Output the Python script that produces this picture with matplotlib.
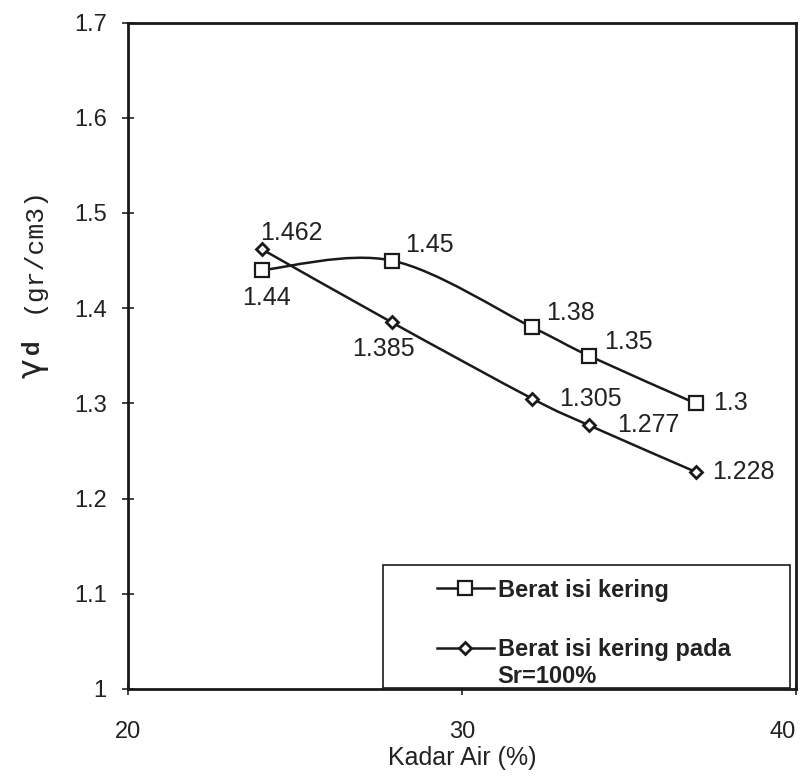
import matplotlib.pyplot as plt
import numpy as np
from matplotlib.path import Path
from matplotlib.patches import PathPatch, Rectangle
from matplotlib.lines import Line2D

plt.rcParams['font.family'] = ['Liberation Sans', 'DejaVu Sans']

kadar_air = np.array([24.0, 27.9, 32.1, 33.8, 37.0])
berat_kering = np.array([1.44, 1.45, 1.38, 1.35, 1.30])
berat_sr100 = np.array([1.462, 1.385, 1.305, 1.277, 1.228])

labels_kering = ['1.44', '1.45', '1.38', '1.35', '1.3']
labels_sr100 = ['1.462', '1.385', '1.305', '1.277', '1.228']

# label offsets in pixels (dx, dy, ha)
off_kering = [(5, -28, 'center'), (13, 16, 'left'), (14, 14, 'left'), (15, 14, 'left'), (18, 0, 'left')]
off_sr100 = [(-2, 16, 'left'), (-8, -27, 'center'), (27, 0, 'left'), (28, 0, 'left'), (17, 0, 'left')]

ink = '#1a1a1a'
txt = '#222222'


def smooth_path(x, y):
    # excel-style smoothed line: cubic bezier through the points
    pts = np.column_stack([x, y])
    n = len(pts)
    verts = [pts[0]]
    codes = [Path.MOVETO]
    for i in range(n - 1):
        p0 = pts[i - 1] if i > 0 else pts[i]
        p1 = pts[i]
        p2 = pts[i + 1]
        p3 = pts[i + 2] if i + 2 < n else pts[i + 1]
        c1 = p1 + (p2 - p0) / 6
        c2 = p2 - (p3 - p1) / 6
        verts += [c1, c2, p2]
        codes += [Path.CURVE4] * 3
    return Path(verts, codes)


fig = plt.figure(figsize=(8.07, 7.81), dpi=100)
ax = fig.add_axes([0.159, 0.118, 0.827, 0.853])

for ys in (berat_kering, berat_sr100):
    ax.add_patch(PathPatch(smooth_path(kadar_air, ys), facecolor='none',
                           edgecolor=ink, lw=1.8, zorder=2))

ax.plot(kadar_air, berat_kering, ls='none', marker='s', ms=10, mfc='white',
        mec=ink, mew=1.6, zorder=3)
ax.plot(kadar_air, berat_sr100, ls='none', marker='D', ms=6.5, mfc='white',
        mec=ink, mew=2.0, zorder=3)

for xv, yv, t, (dx, dy, ha) in zip(kadar_air, berat_kering, labels_kering, off_kering):
    ax.annotate(t, (xv, yv), xytext=(dx, dy), textcoords='offset pixels',
                ha=ha, va='center', fontsize=18, color=txt)
for xv, yv, t, (dx, dy, ha) in zip(kadar_air, berat_sr100, labels_sr100, off_sr100):
    ax.annotate(t, (xv, yv), xytext=(dx, dy), textcoords='offset pixels',
                ha=ha, va='center', fontsize=18, color=txt)

ax.set_xlim(20, 40)
ax.set_ylim(1.0, 1.7)
ax.set_xticks([20, 30, 40])
ax.set_yticks([1.0, 1.1, 1.2, 1.3, 1.4, 1.5, 1.6, 1.7])
ax.set_yticklabels(['1', '1.1', '1.2', '1.3', '1.4', '1.5', '1.6', '1.7'])
ax.tick_params(direction='inout', length=9, width=1.2, labelsize=17,
               colors=txt, pad=11)
ax.tick_params(axis='x', pad=19)
ax.get_xticklabels()[-1].set_ha('right')
for s in ax.spines.values():
    s.set_linewidth(2.0)
    s.set_color(ink)

ax.set_xlabel('Kadar Air (%)', fontsize=18, color=txt, labelpad=2)

# y label in pieces: gamma symbol, bold d, monospace units
fig.text(0.040, 0.529, '\u03b3', rotation=90, ha='center', va='center',
         fontsize=24, color=txt, family='DejaVu Sans')
fig.text(0.040, 0.556, 'd', rotation=90, ha='center', va='center',
         fontsize=17, fontweight='bold', color=txt)
fig.text(0.040, 0.681, '(gr/cm3)', rotation=90, ha='center', va='center',
         fontsize=19, color=txt, family='Liberation Mono')

# legend box drawn separately so the text can sit inside it like the original
ax.add_patch(Rectangle((0.382, 0.002), 0.609, 0.184, transform=ax.transAxes,
                       facecolor='white', edgecolor=ink, lw=1.2, zorder=4))

handles = [
    Line2D([], [], color=ink, lw=1.8, marker='s', ms=10, mfc='white', mec=ink, mew=1.6),
    Line2D([], [], color=ink, lw=1.8, marker='D', ms=6.5, mfc='white', mec=ink, mew=2.0),
]
leg = ax.legend(handles, ['Berat isi kering', 'Berat isi kering pada'],
                loc='upper left', bbox_to_anchor=(0.4626, 0.1655),
                fontsize=17, frameon=False, handlelength=2.4, borderaxespad=0,
                borderpad=0, labelspacing=1.56, handletextpad=0.2)
leg.set_zorder(5)
for t in leg.get_texts():
    t.set_fontweight('bold')
    t.set_color(txt)
ax.text(0.5524, 0.019, 'Sr=100%', transform=ax.transAxes, ha='left', va='center',
        fontsize=17, fontweight='bold', color=txt, zorder=6)

fig.savefig('out.png', dpi=100)
